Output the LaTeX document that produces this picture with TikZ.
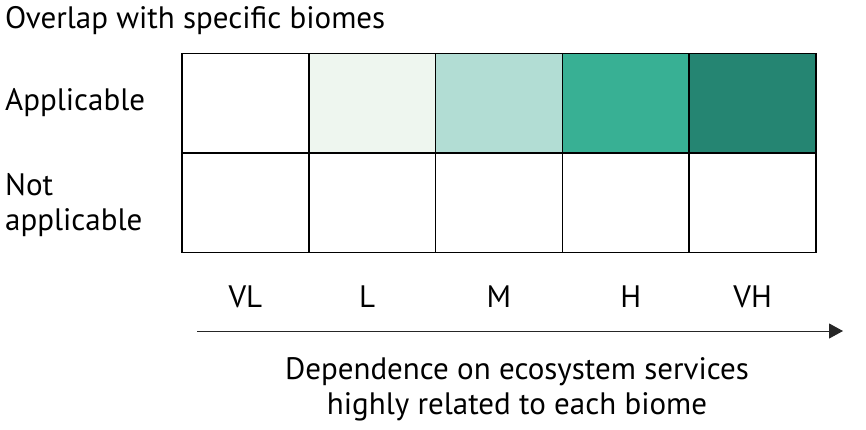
\documentclass[tikz,border=0pt]{standalone}
\usepackage{fontspec}
\setmainfont{PT Sans}
\usepackage{tikz}
\usetikzlibrary{arrows.meta, positioning}

\definecolor{levVL}{HTML}{FFFFFF}
\definecolor{levL}{HTML}{EEF6EF}
\definecolor{levM}{HTML}{B2DDD4}
\definecolor{levH}{HTML}{38B094}
\definecolor{levVH}{HTML}{258572}

\begin{document}
\begin{tikzpicture}[x=1pt,y=-1pt,node distance=126.8pt,>={Triangle[length=14pt,width=15pt]},
  cell/.style={draw,line width=1.5pt,minimum width=126.8pt,minimum height=99.5pt,inner sep=0pt,outer sep=0pt},
  lbl/.style={inner sep=0pt,font=\fontsize{31}{35}\selectfont}]
\useasboundingbox (0,0) rectangle (866,429);
% top row: applicable
\node [cell,fill=levVL] (A1) at (245.4,103) {};
\node [cell,fill=levL] [right of=A1] (A2) {};
\node [cell,fill=levM] [right of=A2] (A3) {};
\node [cell,fill=levH] [right of=A3] (A4) {};
\node [cell,fill=levVH] [right of=A4] (A5) {};
% bottom row: not applicable
\node [cell,below of=A1,node distance=99.5pt] (N1) {};
\node [cell,right of=N1] (N2) {};
\node [cell,right of=N2] (N3) {};
\node [cell,right of=N3] (N4) {};
\node [cell,right of=N4] (N5) {};
% row labels
\node [lbl,anchor=base west] (title) at (5,28) {Overlap with specific biomes};
\node [lbl,anchor=base west] (appl) at (5,110) {Applicable};
\node [lbl,anchor=base west,align=left] (notappl) at (5,230) {Not\\applicable};
% column labels
\coordinate (axisrow) at (0,307);
\node [lbl,anchor=base] (lVL) at (N1 |- axisrow) {VL};
\node [lbl,anchor=base,xshift=-5pt] (lL) at (N2 |- axisrow) {L};
\node [lbl,anchor=base] (lM) at (N3 |- axisrow) {M};
\node [lbl,anchor=base,xshift=5pt] (lH) at (N4 |- axisrow) {H};
\node [lbl,anchor=base] (lVH) at (N5 |- axisrow) {VH};
% axis
\coordinate (ax0) at (197,331);
\coordinate (ax1) at (843,331);
\draw [->,line width=1pt,draw=black!85] (ax0) -- (ax1);
\node [lbl,anchor=base,align=center] (axlabel) at (517,414) {Dependence on ecosystem services\\highly related to each biome};
\end{tikzpicture}
\end{document}
